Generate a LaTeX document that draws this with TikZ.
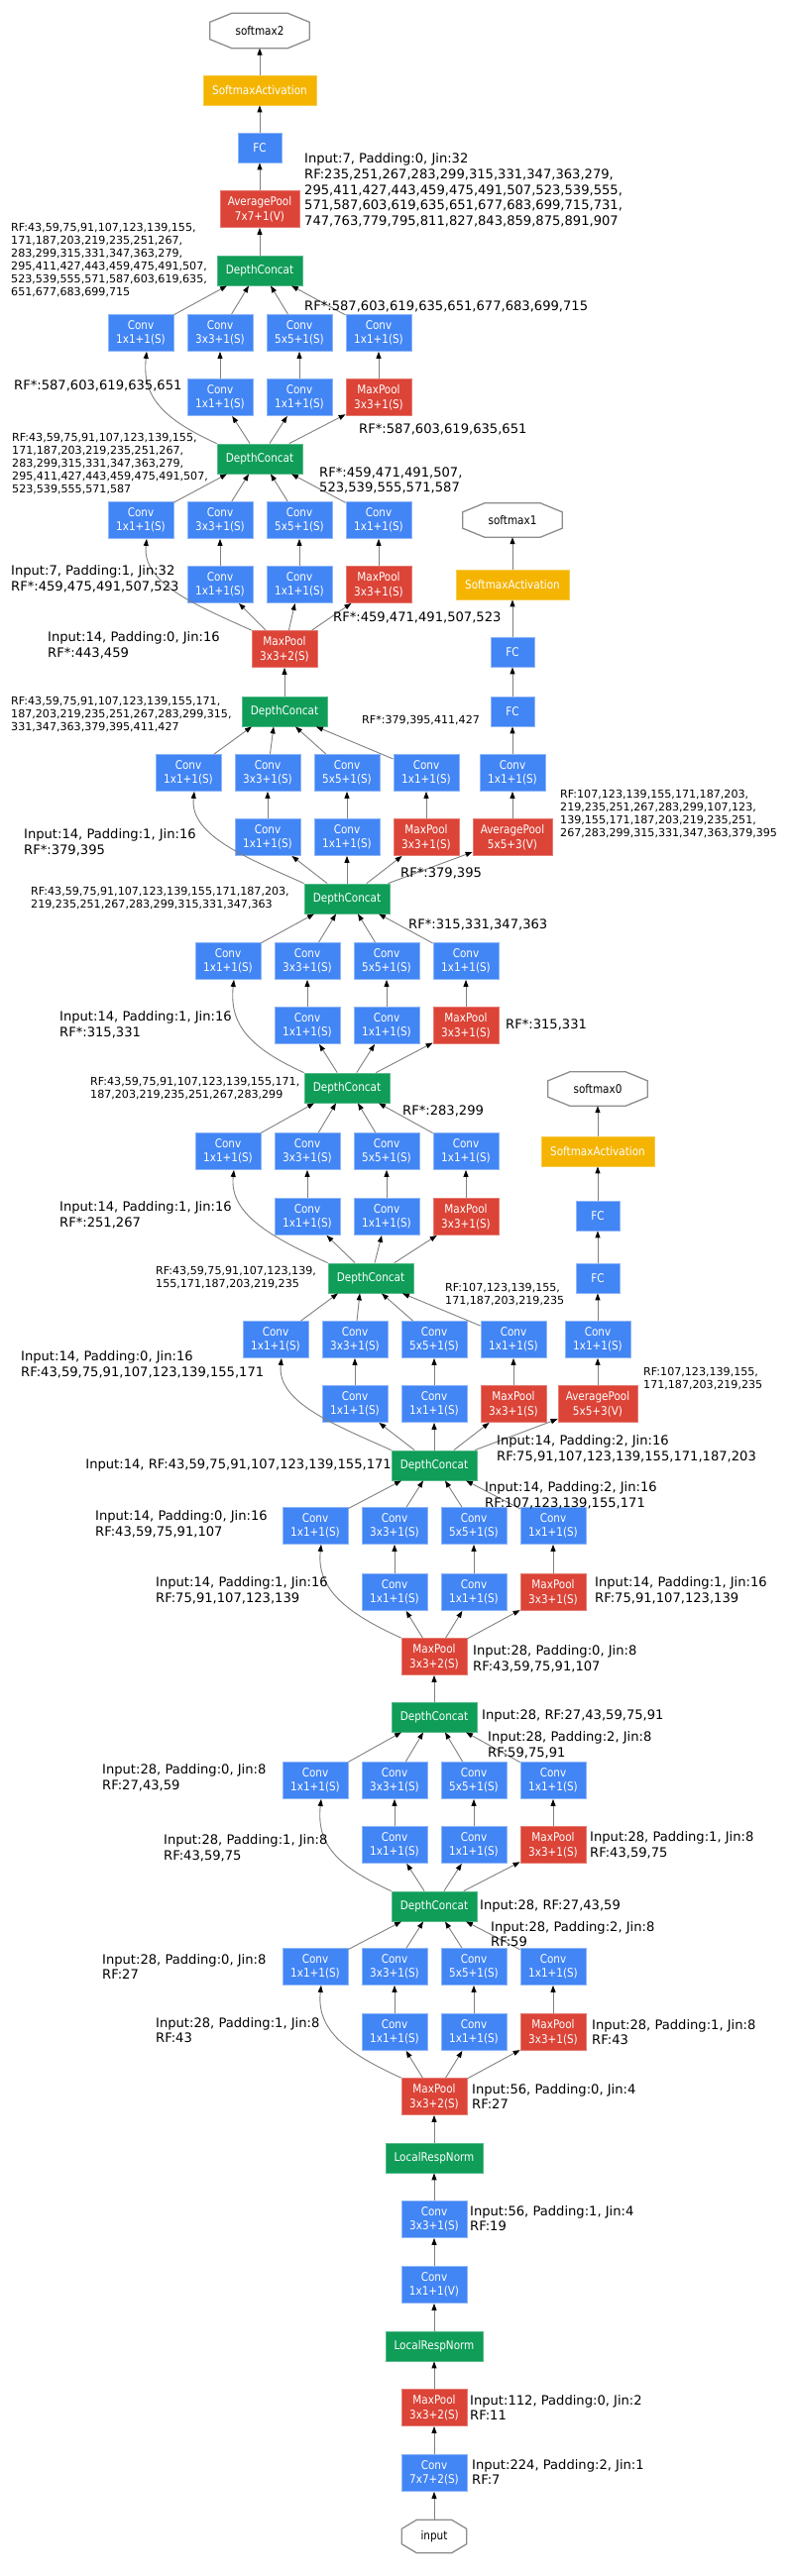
\documentclass[tikz,border=0pt]{standalone}
\usepackage{fontspec}
\setmainfont{DejaVu Sans}
\newfontfamily\nodefont{DejaVu Sans}[FakeStretch=0.87]
\usetikzlibrary{arrows.meta}
\definecolor{gblue}{HTML}{4285F4}
\definecolor{gred}{HTML}{DB4437}
\definecolor{ggreen}{HTML}{0F9D58}
\definecolor{gyellow}{HTML}{F4B400}
\definecolor{edgegray}{HTML}{808080}
\tikzset{
 nbox/.style={rectangle, inner sep=0pt, minimum width=66pt, minimum height=37pt, text=white, align=center, font=\nodefont\fontsize{12}{14.5}\selectfont, line width=0.8pt},
 conv/.style={nbox, fill=gblue, draw=gblue!60!white},
 pool/.style={nbox, fill=gred, draw=gred!70!white},
 apool/.style={pool, minimum width=80pt},
 dc/.style={nbox, fill=ggreen, draw=ggreen!70!white, minimum width=86pt, minimum height=30pt},
 lrn/.style={dc, minimum width=98pt},
 fc/.style={nbox, fill=gblue, draw=gblue!60!white, minimum width=44pt, minimum height=30pt},
 sact/.style={nbox, fill=gyellow, draw=gyellow!70!white, minimum width=114pt, minimum height=30pt},
 term/.style={rectangle, inner sep=0pt, text=black, fill=white, font=\nodefont\fontsize{12}{14.5}\selectfont},
 octline/.style={draw=black!45, line width=1.3pt},
 conn/.style={draw=edgegray, line width=0.9pt, -{Triangle[length=7pt,width=5pt,color=black]}},
 lb/.style={inner sep=0pt, anchor=west, align=left, font=\fontsize{13.1}{15.7}\selectfont, text=black},
 ls/.style={lb, font=\fontsize{11.1}{13}\selectfont},
}
\newcommand{\octnode}[7]{%
 \node[term, minimum width=#4pt, minimum height=#5pt] (#1) at (#2,#3) {#7};
 \draw[octline] ([xshift=#6pt]#1.north west) -- ([xshift=-#6pt]#1.north east) -- ([yshift=-9pt]#1.north east) -- ([yshift=9pt]#1.south east) -- ([xshift=-#6pt]#1.south east) -- ([xshift=#6pt]#1.south west) -- ([yshift=9pt]#1.south west) -- ([yshift=-9pt]#1.north west) -- cycle;
}
\newcommand{\incblock}[4]{%
 \node[conv] (#1a) at (#2,#3) {Conv\\1x1+1(S)};
 \node[conv] (#1b) at ({#2+80},#3) {Conv\\3x3+1(S)};
 \node[conv] (#1c) at ({#2+160},#3) {Conv\\5x5+1(S)};
 \node[conv] (#1d) at ({#2+240},#3) {Conv\\1x1+1(S)};
 \node[conv] (#1e) at ({#2+80},#4) {Conv\\1x1+1(S)};
 \node[conv] (#1f) at ({#2+160},#4) {Conv\\1x1+1(S)};
 \node[pool] (#1g) at ({#2+240},#4) {MaxPool\\3x3+1(S)};
}
\newcommand{\incedges}[3]{%
 \draw[conn] (#1.north west) .. controls +(-55,-25) and +(-5,45) .. ([xshift=6pt]#2a.south);
 \draw[conn] (#1) -- (#2e);
 \draw[conn] (#1) -- (#2f);
 \draw[conn] (#1) -- (#2g);
 \draw[conn] (#2e) -- (#2b);
 \draw[conn] (#2f) -- (#2c);
 \draw[conn] (#2g) -- (#2d);
 \draw[conn] (#2a) -- ([xshift=-33pt]#3.south);
 \draw[conn] (#2b) -- ([xshift=-11pt]#3.south);
 \draw[conn] (#2c) -- ([xshift=11pt]#3.south);
 \draw[conn] (#2d) -- ([xshift=32pt]#3.south);
}
\begin{document}
\begin{tikzpicture}[x=1pt,y=-1pt]
\useasboundingbox[fill=white] (0,0) rectangle (800,2600);
% main stem
\octnode{input}{438}{2560}{65}{33}{15}{input}
\node[conv] (conv1) at (438,2496) {Conv\\7x7+2(S)};
\node[pool] (pool1) at (438,2430) {MaxPool\\3x3+2(S)};
\node[lrn] (lrn1) at (438,2368) {LocalRespNorm};
\node[conv] (conv2r) at (438,2306) {Conv\\1x1+1(V)};
\node[conv] (conv2) at (438,2240) {Conv\\3x3+1(S)};
\node[lrn] (lrn2) at (438,2178) {LocalRespNorm};
\node[pool] (pool2) at (438,2116) {MaxPool\\3x3+2(S)};
\incblock{iA}{318}{1985}{2051}
\node[dc] (dcA) at (438,1924) {DepthConcat};
\incblock{iB}{318}{1797}{1862}
\node[dc] (dcB) at (438,1733) {DepthConcat};
\node[pool] (pool3) at (438,1672) {MaxPool\\3x3+2(S)};
\incblock{iC}{318}{1540}{1607}
\node[dc] (dcC) at (438,1479) {DepthConcat};
\incblock{iD}{278}{1352}{1417}
\node[dc] (dcD) at (374,1290) {DepthConcat};
\incblock{iE}{230}{1162}{1228}
\node[dc] (dcE) at (350,1098) {DepthConcat};
\incblock{iF}{230}{970}{1035}
\node[dc] (dcF) at (350,907) {DepthConcat};
\incblock{iG}{190}{780}{845}
\node[dc] (dcG) at (287,718) {DepthConcat};
\node[pool] (pool4) at (287,655) {MaxPool\\3x3+2(S)};
\incblock{iH}{142}{525}{590}
\node[dc] (dcH) at (262,463) {DepthConcat};
\incblock{iI}{142}{336}{401}
\node[dc] (dcI) at (262,273) {DepthConcat};
\node[apool] (apool) at (262,211) {AveragePool\\7x7+1(V)};
\node[fc] (fc) at (262,149) {FC};
\node[sact] (sact) at (262,91) {SoftmaxActivation};
\octnode{sm2}{262}{31}{100}{35}{22}{softmax2}
% aux 0
\node[apool] (ap0) at (603,1417) {AveragePool\\5x5+3(V)};
\node[conv] (ac0) at (603,1352) {Conv\\1x1+1(S)};
\node[fc] (fa0) at (603,1290) {FC};
\node[fc] (fb0) at (603,1227) {FC};
\node[sact] (sa0) at (603,1162) {SoftmaxActivation};
\octnode{sm0}{603}{1099}{100}{34}{22}{softmax0}
% aux 1
\node[apool] (ap1) at (517,845) {AveragePool\\5x5+3(V)};
\node[conv] (ac1) at (517,780) {Conv\\1x1+1(S)};
\node[fc] (fa1) at (517,718) {FC};
\node[fc] (fb1) at (517,658) {FC};
\node[sact] (sa1) at (517,590) {SoftmaxActivation};
\octnode{sm1}{517}{525}{100}{34}{22}{softmax1}
% edges
\draw[conn] (input) -- (conv1);
\draw[conn] (conv1) -- (pool1);
\draw[conn] (pool1) -- (lrn1);
\draw[conn] (lrn1) -- (conv2r);
\draw[conn] (conv2r) -- (conv2);
\draw[conn] (conv2) -- (lrn2);
\draw[conn] (lrn2) -- (pool2);
\incedges{pool2}{iA}{dcA}
\incedges{dcA}{iB}{dcB}
\draw[conn] (dcB) -- (pool3);
\incedges{pool3}{iC}{dcC}
\incedges{dcC}{iD}{dcD}
\draw[conn] (dcC) -- (ap0);
\draw[conn] (ap0) -- (ac0);
\draw[conn] (ac0) -- (fa0);
\draw[conn] (fa0) -- (fb0);
\draw[conn] (fb0) -- (sa0);
\draw[conn] (sa0) -- (sm0);
\incedges{dcD}{iE}{dcE}
\incedges{dcE}{iF}{dcF}
\incedges{dcF}{iG}{dcG}
\draw[conn] (dcF) -- (ap1);
\draw[conn] (ap1) -- (ac1);
\draw[conn] (ac1) -- (fa1);
\draw[conn] (fa1) -- (fb1);
\draw[conn] (fb1) -- (sa1);
\draw[conn] (sa1) -- (sm1);
\draw[conn] (dcG) -- (pool4);
\incedges{pool4}{iH}{dcH}
\incedges{dcH}{iI}{dcI}
\draw[conn] (dcI) -- (apool);
\draw[conn] (apool) -- (fc);
\draw[conn] (fc) -- (sact);
\draw[conn] (sact) -- (sm2);
% labels
\node[lb] (l1) at (307,192) {Input:7, Padding:0, Jin:32\\RF:235,251,267,283,299,315,331,347,363,279,\\295,411,427,443,459,475,491,507,523,539,555,\\571,587,603,619,635,651,677,683,699,715,731,\\747,763,779,795,811,827,843,859,875,891,907};
\node[ls] (l2) at (11,263) {RF:43,59,75,91,107,123,139,155,\\171,187,203,219,235,251,267,\\283,299,315,331,347,363,279,\\295,411,427,443,459,475,491,507,\\523,539,555,571,587,603,619,635,\\651,677,683,699,715};
\node[lb] (l3) at (307,309) {RF*:587,603,619,635,651,677,683,699,715};
\node[lb] (l4) at (14,389) {RF*:587,603,619,635,651};
\node[lb] (l5) at (362,433) {RF*:587,603,619,635,651};
\node[ls] (l6) at (12,468) {RF:43,59,75,91,107,123,139,155,\\171,187,203,219,235,251,267,\\283,299,315,331,347,363,279,\\295,411,427,443,459,475,491,507,\\523,539,555,571,587};
\node[lb] (l7) at (322,485) {RF*:459,471,491,507,\\523,539,555,571,587};
\node[lb] (l8) at (11,584) {Input:7, Padding:1, Jin:32\\RF*:459,475,491,507,523};
\node[lb] (l9) at (336,623) {RF*:459,471,491,507,523};
\node[lb] (l10) at (48,651) {Input:14, Padding:0, Jin:16\\RF*:443,459};
\node[ls] (l11) at (11,721) {RF:43,59,75,91,107,123,139,155,171,\\187,203,219,235,251,267,283,299,315,\\331,347,363,379,395,411,427};
\node[ls] (l12) at (365,727) {RF*:379,395,411,427};
\node[ls] (l13) at (565,822) {RF:107,123,139,155,171,187,203,\\219,235,251,267,283,299,107,123,\\139,155,171,187,203,219,235,251,\\267,283,299,315,331,347,363,379,395};
\node[lb] (l14) at (24,850) {Input:14, Padding:1, Jin:16\\RF*:379,395};
\node[lb] (l15) at (404,881) {RF*:379,395};
\node[ls] (l16) at (31,907) {RF:43,59,75,91,107,123,139,155,171,187,203,\\219,235,251,267,283,299,315,331,347,363};
\node[lb] (l17) at (412,933) {RF*:315,331,347,363};
\node[lb] (l18) at (60,1034) {Input:14, Padding:1, Jin:16\\RF*:315,331};
\node[lb] (l19) at (510,1034) {RF*:315,331};
\node[ls] (l20) at (91,1099) {RF:43,59,75,91,107,123,139,155,171,\\187,203,219,235,251,267,283,299};
\node[lb] (l21) at (406,1121) {RF*:283,299};
\node[lb] (l22) at (60,1226) {Input:14, Padding:1, Jin:16\\RF*:251,267};
\node[ls] (l23) at (157,1290) {RF:43,59,75,91,107,123,139,\\155,171,187,203,219,235};
\node[ls] (l24) at (449,1307) {RF:107,123,139,155,\\171,187,203,219,235};
\node[lb] (l25) at (21,1377) {Input:14, Padding:0, Jin:16\\RF:43,59,75,91,107,123,139,155,171};
\node[ls] (l26) at (649,1392) {RF:107,123,139,155,\\171,187,203,219,235};
\node[lb] (l27) at (501,1462) {Input:14, Padding:2, Jin:16\\RF:75,91,107,123,139,155,171,187,203};
\node[lb, anchor=east] (l28) at (395,1479) {Input:14, RF:43,59,75,91,107,123,139,155,171};
\node[lb] (l29) at (489,1509) {Input:14, Padding:2, Jin:16\\RF:107,123,139,155,171};
\node[lb] (l30) at (96,1538) {Input:14, Padding:0, Jin:16\\RF:43,59,75,91,107};
\node[lb] (l31) at (157,1605) {Input:14, Padding:1, Jin:16\\RF:75,91,107,123,139};
\node[lb] (l32) at (600,1605) {Input:14, Padding:1, Jin:16\\RF:75,91,107,123,139};
\node[lb] (l33) at (477,1674) {Input:28, Padding:0, Jin:8\\RF:43,59,75,91,107};
\node[lb] (l34) at (486,1732) {Input:28, RF:27,43,59,75,91};
\node[lb] (l35) at (492,1761) {Input:28, Padding:2, Jin:8\\RF:59,75,91};
\node[lb] (l36) at (103,1794) {Input:28, Padding:0, Jin:8\\RF:27,43,59};
\node[lb] (l37) at (165,1865) {Input:28, Padding:1, Jin:8\\RF:43,59,75};
\node[lb] (l38) at (595,1862) {Input:28, Padding:1, Jin:8\\RF:43,59,75};
\node[lb] (l39) at (484,1924) {Input:28, RF:27,43,59};
\node[lb] (l40) at (495,1952) {Input:28, Padding:2, Jin:8\\RF:59};
\node[lb] (l41) at (103,1985) {Input:28, Padding:0, Jin:8\\RF:27};
\node[lb] (l42) at (157,2049) {Input:28, Padding:1, Jin:8\\RF:43};
\node[lb] (l43) at (597,2051) {Input:28, Padding:1, Jin:8\\RF:43};
\node[lb] (l44) at (476,2116) {Input:56, Padding:0, Jin:4\\RF:27};
\node[lb] (l45) at (474,2239) {Input:56, Padding:1, Jin:4\\RF:19};
\node[lb] (l46) at (474,2430) {Input:112, Padding:0, Jin:2\\RF:11};
\node[lb] (l47) at (476,2495) {Input:224, Padding:2, Jin:1\\RF:7};
\end{tikzpicture}
\end{document}
